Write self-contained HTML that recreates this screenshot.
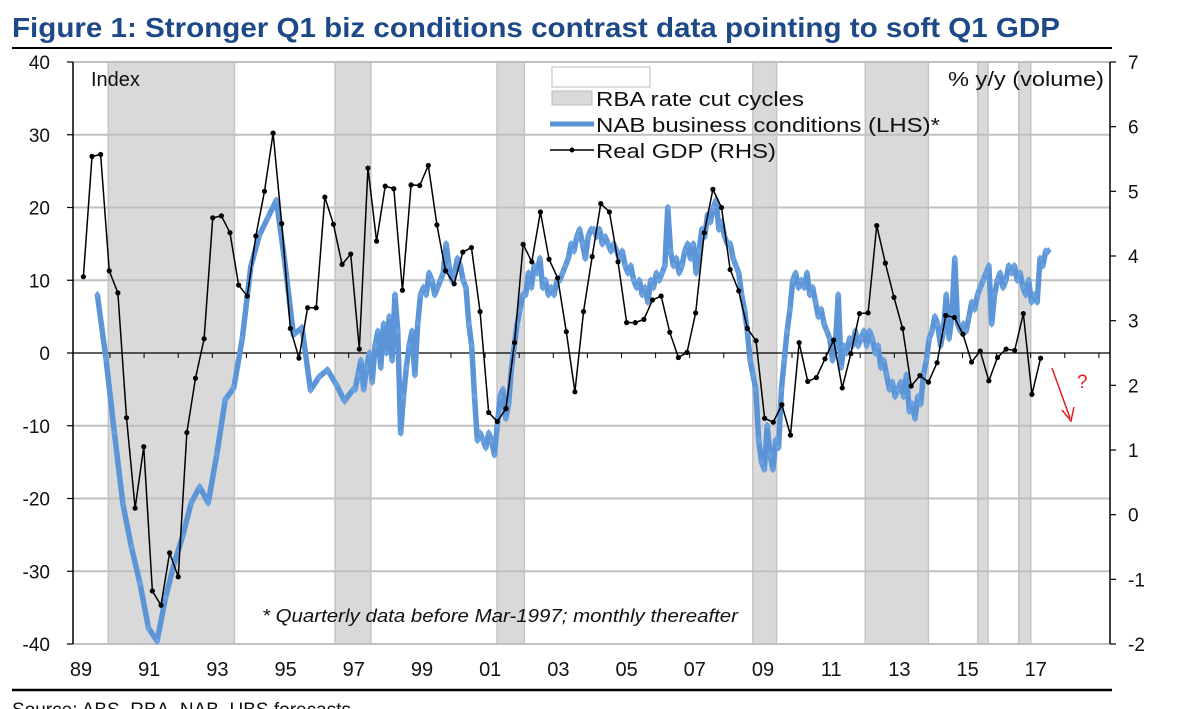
<!DOCTYPE html>
<html><head><meta charset="utf-8">
<style>
body{margin:0;background:#fff;width:1179px;height:709px;overflow:hidden;font-family:"Liberation Sans",Arial,sans-serif;}
svg{display:block}
</style></head>
<body>
<svg id="chart" width="1179" height="709" xmlns="http://www.w3.org/2000/svg">
<text x="12" y="37" font-size="28" font-weight="bold" fill="#1d4a86" textLength="1048" lengthAdjust="spacingAndGlyphs">Figure 1: Stronger Q1 biz conditions contrast data pointing to soft Q1 GDP</text>
<line x1="12" y1="48" x2="1112" y2="48" stroke="#000" stroke-width="2"/>
<g id="bands"></g>
<g id="grid"></g>
<g id="axes"></g>
<g id="series"></g>
<g id="legend">
  <rect x="552" y="67" width="98" height="20" fill="#fff" stroke="#bbb"/>
  <rect x="552" y="91" width="40" height="14" fill="#d9d9d9" stroke="#bbb"/>
  <text x="596" y="106" font-size="20" fill="#111" textLength="208" lengthAdjust="spacingAndGlyphs">RBA rate cut cycles</text>
  <line x1="550" y1="124" x2="594" y2="124" stroke="#5b95d8" stroke-width="5"/>
  <text x="596" y="132" font-size="20" fill="#111" textLength="344" lengthAdjust="spacingAndGlyphs">NAB business conditions (LHS)*</text>
  <line x1="550" y1="150" x2="594" y2="150" stroke="#000" stroke-width="1.5"/>
  <circle cx="572" cy="150" r="2.5" fill="#000"/>
  <text x="596" y="158" font-size="20" fill="#111" textLength="180" lengthAdjust="spacingAndGlyphs">Real GDP (RHS)</text>
</g>
<text x="91" y="86" font-size="20" fill="#111">Index</text>
<text x="948" y="86" font-size="20" fill="#111" textLength="156" lengthAdjust="spacingAndGlyphs">% y/y (volume)</text>
<text x="262" y="622" font-size="18" font-style="italic" fill="#111" textLength="476" lengthAdjust="spacingAndGlyphs">* Quarterly data before Mar-1997; monthly thereafter</text>
<g>
  <line x1="1052" y1="368" x2="1070" y2="418" stroke="#e02020" stroke-width="1.5"/>
  <polyline points="1062,410 1071,421 1074,407" fill="none" stroke="#e02020" stroke-width="1.5"/>
  <text x="1077" y="388" font-size="19" fill="#e02020">?</text>
</g>
<line x1="12" y1="690" x2="1112" y2="690" stroke="#000" stroke-width="2.5"/>
<text x="12" y="716" font-size="19" fill="#111">Source: ABS, RBA, NAB, UBS forecasts</text>
</svg>
<script>
// ---- data ----
const bandStarts = [1989.8, 1996.45, 2001.2, 2008.7, 2012.0, 2015.3, 2016.5];
const bandEnds   = [1993.5, 1997.5, 2002.0, 2009.4, 2013.85, 2015.6, 2016.85];
const yearTickLabels = ["89","91","93","95","97","99","01","03","05","07","09","11","13","15","17"];
const yearTickYears = [1989,1991,1993,1995,1997,1999,2001,2003,2005,2007,2009,2011,2013,2015,2017];
const leftTicks = [40,30,20,10,0,-10,-20,-30,-40];
const rightTicks = [7,6,5,4,3,2,1,0,-1,-2];
const gdpStart = 1989.07, gdpEnd = 2017.14;
const gdpValues = [3.68,5.54,5.57,3.77,3.43,1.50,0.10,1.05,-1.18,-1.40,-0.59,-0.96,1.27,2.11,2.72,4.59,4.62,4.36,3.55,3.38,4.31,5.00,5.90,4.50,2.88,2.42,3.20,3.20,4.91,4.49,3.87,4.03,2.56,5.36,4.23,5.08,5.04,3.47,5.10,5.09,5.40,4.48,3.77,3.57,4.06,4.13,3.14,
1.58,1.44,1.64,2.66,4.18,3.91,4.68,3.95,3.66,2.83,1.90,3.14,3.99,4.81,4.68,3.91,2.97,2.97,3.02,3.32,3.38,2.82,2.43,2.51,3.12,4.36,5.03,4.75,3.79,3.46,2.88,2.69,1.49,1.43,1.70,1.23,2.66,2.06,2.12,
2.41,2.70,1.96,2.49,3.11,3.12,4.47,3.89,3.36,2.88,1.99,2.15,2.05,2.35,3.08,3.05,2.79,2.36,2.53,2.07,2.43,2.56,2.54,3.11,1.86,2.42];
const nabQuarterlyStart = 1989.48;
const nabQuarterly = [8.0,-0.7,-11.0,-20.8,-26.7,-31.7,-37.8,-39.6,-33.6,-29.0,-25.2,-20.6,-18.4,-20.6,-14.0,-6.4,-4.8,2.0,11.9,16.2,18.6,21.0,12.4,2.5,3.5,-5.1,-3.3,-2.3,-4.3,-6.6,-5.0];
const nabMonthlyStart = 1997.04;
const nabMonthly = [
-5,-3,-1,-5,-2,0,-4,1,3,-2,4,0,
5,-1,8,3,-11,-6,-2,1,3,-3,4,8,
9,8,11,10,8,9,10,11,15,12,10,11,
13,12,10,9,4,1,-6,-12,-11,-12,-13,-11,
-12,-14,-10,-6,-5,-9,-7,-2,1,4,6,8,
8,11,9,12,11,13,9,10,8,9,8,10,
10,11,12,13,15,14,16,17,15,13,16,17,
17,16,17,15,16,15,14,15,14,13,14,12,
11,12,10,9,10,8,9,7,10,9,11,10,
11,12,20,14,12,13,11,12,14,15,13,15,
11,14,17,16,19,18,20,21,17,18,16,15,
15,13,12,11,8,6,3,-1,-3,-5,-12,-15,
-16,-10,-14,-16,-12,-13,-5,-1,3,6,10,11,
9,10,9,11,8,9,7,5,6,4,3,2,
-1,1,8,-2,1,0,2,1,3,1,2,3,
1,3,2,0,1,-2,-1,-3,-5,-4,-6,-5,
-4,-6,-3,-8,-7,-9,-6,-7,-3,-1,2,3,
5,4,1,3,8,2,5,13,4,3,4,3,
5,7,6,8,9,10,11,12,4,8,10,11,
9,10,12,11,12,10,11,9,8,10,7,8,
7,13,12,14,14];

// ---- scales ----
const L=73, R=1110, T=62, B=644;
const x = t => 81 + (t-1989)*34.1;
const yL = v => 353 - v*7.275;
const yR = v => 353 - (v-2.5)*64.67;
const NS="http://www.w3.org/2000/svg";
function mk(tag, attrs, parent){const e=document.createElementNS(NS,tag);for(const k in attrs)e.setAttribute(k,attrs[k]);parent.appendChild(e);return e;}

const gB=document.getElementById('bands'), gG=document.getElementById('grid'), gA=document.getElementById('axes'), gS=document.getElementById('series');

bandStarts.forEach((s,i)=>{
  const r=mk('rect',{x:x(s),y:T,width:x(bandEnds[i])-x(s),height:B-T,fill:'#d9d9d9',stroke:'#c4c4c4','stroke-width':1.5},gB);
  
  
});
leftTicks.forEach(v=>{
  if(v===0) return;
  const l=mk('line',{x1:L,x2:R,y1:yL(v),y2:yL(v),stroke:'#c0c0c0','stroke-width':2},gG);
  
  
});
const z=mk('line',{x1:L,x2:R,y1:yL(0),y2:yL(0),stroke:'#000','stroke-width':1.2},gA);


for(let yr=1989;yr<=2018;yr++){
  const t=mk('line',{x1:x(yr+0.85),x2:x(yr+0.85),y1:yL(0),y2:yL(0)+5,stroke:'#000','stroke-width':1},gA);
  
  
}
const la=mk('line',{x1:L,x2:L,y1:T,y2:B,stroke:'#000','stroke-width':1.5},gA);


const ra=mk('line',{x1:R,x2:R,y1:T,y2:B,stroke:'#000','stroke-width':1.5},gA);


leftTicks.forEach(v=>{
  mk('line',{x1:L-6,x2:L,y1:yL(v),y2:yL(v),stroke:'#000','stroke-width':1.2},gA);
  const tx=mk('text',{x:50,y:yL(v)+7,'font-size':19,'text-anchor':'end',fill:'#111'},gA);
  tx.textContent=v;
  
  
});
rightTicks.forEach(v=>{
  mk('line',{x1:R,x2:R+6,y1:yR(v),y2:yR(v),stroke:'#000','stroke-width':1.2},gA);
  const tx=mk('text',{x:1128,y:yR(v)+7,'font-size':19,fill:'#111'},gA);
  tx.textContent=v;
  
  
});
yearTickLabels.forEach((lab,i)=>{
  const tx=mk('text',{x:x(yearTickYears[i]),y:676,'font-size':20,'text-anchor':'middle',fill:'#111'},gA);
  tx.textContent=lab;
  
  
});

const nabPts=[];
nabQuarterly.forEach((v,i)=>nabPts.push([x(nabQuarterlyStart+i*0.25),yL(v)]));
nabMonthly.forEach((v,i)=>nabPts.push([x(nabMonthlyStart+i/12),yL(v)]));
const nabLine=mk('polyline',{points:nabPts.map(p=>p.join(',')).join(' '),fill:'none',stroke:'#5b95d8','stroke-width':5.5,'stroke-linejoin':'round'},gS);


nabPts.forEach(p=>{
  const d=mk('path',{d:`M${p[0]},${p[1]-4}L${p[0]+3},${p[1]}L${p[0]},${p[1]+4}L${p[0]-3},${p[1]}Z`,fill:'#6aa0de'},gS);
  
  
});

const step=(gdpEnd-gdpStart)/(gdpValues.length-1);
const gdpPts=gdpValues.map((v,i)=>[x(gdpStart+i*step),yR(v)]);
const gl=mk('polyline',{points:gdpPts.map(p=>p.join(',')).join(' '),fill:'none',stroke:'#000','stroke-width':1.5},gS);


gdpPts.forEach(p=>{
  const c=mk('circle',{cx:p[0],cy:p[1],r:2.6,fill:'#000'},gS);
  
  
});
</script>
</body></html>
